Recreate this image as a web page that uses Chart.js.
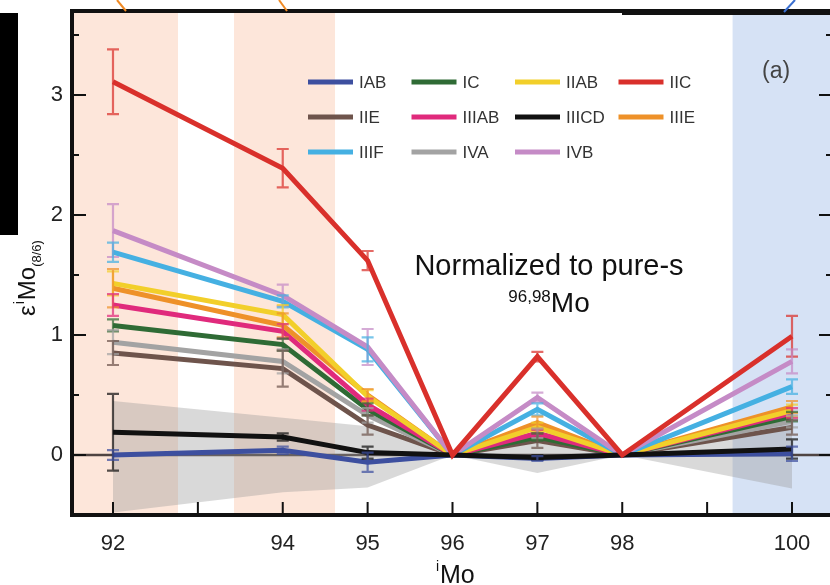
<!DOCTYPE html>
<html>
<head>
<meta charset="utf-8">
<script src="https://cdn.jsdelivr.net/npm/chart.js@4.4.1/dist/chart.umd.min.js"></script>
<style>
  html, body { margin: 0; padding: 0; background: #fff; overflow: hidden; width: 830px; height: 585px; }
  #wrap { position: relative; width: 840px; height: 585px; }
</style>
</head>
<body>
<div id="wrap"><canvas id="c" width="840" height="585"></canvas></div>
<script>
// Mo isotope mass numbers (x) and axis ticks
const isotopes = [92, 94, 95, 96, 97, 98, 100];
const xTickValues = [92, 94, 95, 96, 97, 98, 100];
const xMinorTicks = [93, 99];
const yTickValues = [0, 1, 2, 3];
const yMinorTicks = [-0.5, 0.5, 1.5, 2.5, 3.5];

// Iron meteorite groups (legend order)
const groups = ['IAB', 'IC', 'IIAB', 'IIC', 'IIE', 'IIIAB', 'IIICD', 'IIIE', 'IIIF', 'IVA', 'IVB'];

// ε(iMo) values normalized to pure-s 96,98Mo, and 2σ errors
const valIAB   = [0.00, 0.04, -0.06, 0, -0.03, 0, 0.01];
const errIAB   = [0.04, 0.03, 0.08, 0, 0.02, 0, 0.06];
const valIC    = [1.08, 0.92, 0.38, 0, 0.15, 0, 0.32];
const errIC    = [0.05, 0.05, 0.05, 0, 0.03, 0, 0.04];
const valIIAB  = [1.43, 1.17, 0.49, 0, 0.23, 0, 0.37];
const errIIAB  = [0.10, 0.08, 0.05, 0, 0.04, 0, 0.05];
const valIIC   = [3.11, 2.39, 1.62, 0, 0.82, 0, 0.99];
const errIIC   = [0.27, 0.16, 0.08, 0, 0.04, 0, 0.17];
const valIIE   = [0.85, 0.72, 0.25, 0, 0.12, 0, 0.23];
const errIIE   = [0.10, 0.15, 0.08, 0, 0.06, 0, 0.06];
const valIIIAB = [1.25, 1.03, 0.42, 0, 0.18, 0, 0.35];
const errIIIAB = [0.09, 0.06, 0.05, 0, 0.03, 0, 0.04];
const valIIICD = [0.19, 0.15, 0.02, 0, -0.02, 0, 0.05];
const errIIICD = [0.32, 0.03, 0.05, 0, 0.02, 0, 0.08];
const valIIIE  = [1.39, 1.08, 0.50, 0, 0.27, 0, 0.40];
const errIIIE  = [0.16, 0.10, 0.05, 0, 0.05, 0, 0.05];
const valIIIF  = [1.69, 1.28, 0.88, 0, 0.38, 0, 0.57];
const errIIIF  = [0.08, 0.05, 0.10, 0, 0.05, 0, 0.06];
const valIVA   = [0.94, 0.78, 0.33, 0, 0.18, 0, 0.28];
const errIVA   = [0.10, 0.10, 0.06, 0, 0.04, 0, 0.05];
const valIVB   = [1.87, 1.33, 0.90, 0, 0.48, 0, 0.78];
const errIVB   = [0.22, 0.09, 0.15, 0, 0.04, 0, 0.10];

// Uncertainty envelope around zero
const bandUpper = [0.45, 0.31, 0.24, 0, 0.10, 0, 0.26];
const bandLower = [-0.48, -0.31, -0.27, 0, -0.15, 0, -0.28];

const seriesValues = {
  IAB: valIAB, IC: valIC, IIAB: valIIAB, IIC: valIIC, IIE: valIIE, IIIAB: valIIIAB,
  IIICD: valIIICD, IIIE: valIIIE, IIIF: valIIIF, IVA: valIVA, IVB: valIVB
};
const seriesErrors = {
  IAB: errIAB, IC: errIC, IIAB: errIIAB, IIC: errIIC, IIE: errIIE, IIIAB: errIIIAB,
  IIICD: errIIICD, IIIE: errIIIE, IIIF: errIIIF, IVA: errIVA, IVB: errIVB
};
const colors = {
  IAB: '#3d4f9f', IC: '#2f6b35', IIAB: '#f2cf2a', IIC: '#d9302b', IIE: '#6e544c',
  IIIAB: '#e02a7c', IIICD: '#111111', IIIE: '#ee9129', IIIF: '#45b0e2', IVA: '#a3a3a3', IVB: '#c58bc6'
};

// first dataset is painted last (on top)
const drawOrder = ['IIC', 'IIICD', 'IAB', 'IVB', 'IIIF', 'IIAB', 'IIIE', 'IIIAB', 'IC', 'IVA', 'IIE'];

const FONT = '"Liberation Sans", Arial, Helvetica, sans-serif';
Chart.defaults.font.family = FONT;

const pts = arr => arr.map((v, i) => ({ x: isotopes[i], y: v }));

const datasets = drawOrder.map(name => ({
  label: name,
  data: pts(seriesValues[name]),
  borderColor: colors[name],
  backgroundColor: colors[name],
  borderWidth: 5,
  pointRadius: 0,
  tension: 0,
  fill: false,
  borderJoinStyle: 'miter',
  errors: seriesErrors[name]
}));
const upperIndex = datasets.length;
datasets.push({
  label: 'envelope+', data: pts(bandUpper), borderWidth: 0, pointRadius: 0,
  borderColor: 'rgba(0,0,0,0)', fill: false
});
datasets.push({
  label: 'envelope-', data: pts(bandLower), borderWidth: 0, pointRadius: 0,
  borderColor: 'rgba(0,0,0,0)', backgroundColor: 'rgba(150,150,150,0.36)',
  fill: { target: upperIndex }
});

function hexA(hex, a) {
  const n = parseInt(hex.slice(1), 16);
  return `rgba(${(n >> 16) & 255},${(n >> 8) & 255},${n & 255},${a})`;
}

const decor = {
  id: 'decor',
  beforeDatasetsDraw(chart) {
    const { ctx, chartArea: a, scales: { x, y } } = chart;
    ctx.save();
    // highlighted isotope windows
    const spans = [
      [x.min, 92.766, 'rgb(253,230,218)'],
      [93.426, 94.616, 'rgb(253,230,218)'],
      [99.30, x.max, 'rgb(214,226,245)']
    ];
    spans.forEach(([v0, v1, c]) => {
      const p0 = x.getPixelForValue(v0), p1 = x.getPixelForValue(v1);
      ctx.fillStyle = c;
      ctx.fillRect(p0, a.top, p1 - p0, a.bottom - a.top);
    });
    // zero reference line
    const y0 = y.getPixelForValue(0);
    ctx.strokeStyle = '#4f4442';
    ctx.lineWidth = 2.5;
    ctx.beginPath();
    ctx.moveTo(a.left, y0);
    ctx.lineTo(a.right, y0);
    ctx.stroke();
    ctx.restore();
  },
  afterDatasetsDraw(chart) {
    const { ctx, scales: { x, y } } = chart;
    ctx.save();
    chart.data.datasets.forEach(ds => {
      if (!ds.errors) return;
      ctx.strokeStyle = hexA(ds.borderColor, 0.72);
      ctx.lineWidth = 2.2;
      ds.data.forEach((p, i) => {
        const e = ds.errors[i];
        if (!e) return;
        const px = x.getPixelForValue(p.x);
        const t = y.getPixelForValue(p.y + e), b = y.getPixelForValue(p.y - e);
        ctx.beginPath();
        ctx.moveTo(px, t); ctx.lineTo(px, b);
        ctx.moveTo(px - 6, t); ctx.lineTo(px + 6, t);
        ctx.moveTo(px - 6, b); ctx.lineTo(px + 6, b);
        ctx.stroke();
      });
    });
    ctx.restore();
  },
  afterDraw(chart) {
    const { ctx, chartArea: a, scales: { x, y } } = chart;
    ctx.save();
    ctx.strokeStyle = '#111';
    // inward tick marks
    ctx.lineWidth = 2;
    ctx.beginPath();
    xTickValues.concat(xMinorTicks).forEach(v => {
      const px = x.getPixelForValue(v);
      ctx.moveTo(px, a.bottom); ctx.lineTo(px, a.bottom - 13);
    });
    yTickValues.forEach(v => {
      const py = y.getPixelForValue(v);
      ctx.moveTo(a.left, py); ctx.lineTo(a.left + 14, py);
      ctx.moveTo(a.right, py); ctx.lineTo(a.right - 14, py);
    });
    yMinorTicks.forEach(v => {
      const py = y.getPixelForValue(v);
      ctx.moveTo(a.left, py); ctx.lineTo(a.left + 7, py);
      ctx.moveTo(a.right, py); ctx.lineTo(a.right - 7, py);
    });
    ctx.stroke();
    // plot frame
    ctx.lineWidth = 4;
    ctx.strokeRect(a.left, a.top, a.right - a.left, a.bottom - a.top);
    ctx.fillStyle = '#111';
    ctx.fillRect(622, a.top - 1, a.right - 622, 5);

    // side marker and pointer strokes
    ctx.fillStyle = '#000';
    ctx.fillRect(0, 13, 18, 222);
    ctx.lineWidth = 2;
    ctx.strokeStyle = '#f08a24';
    ctx.beginPath(); ctx.moveTo(117, 0); ctx.lineTo(126, 11); ctx.stroke();
    ctx.beginPath(); ctx.moveTo(279, 0); ctx.lineTo(287, 11); ctx.stroke();
    ctx.strokeStyle = '#3a6fd0';
    ctx.beginPath(); ctx.moveTo(795, 0); ctx.lineTo(784, 12); ctx.stroke();

    // legend
    ctx.textBaseline = 'middle';
    ctx.textAlign = 'left';
    ctx.font = `17px ${FONT}`;
    groups.forEach((g, k) => {
      const col = k % 4, row = Math.floor(k / 4);
      const lx = 308 + col * 103.5, ly = 82 + row * 35;
      ctx.strokeStyle = colors[g];
      ctx.lineWidth = 5;
      ctx.beginPath(); ctx.moveTo(lx, ly); ctx.lineTo(lx + 45, ly); ctx.stroke();
      ctx.fillStyle = '#333';
      ctx.fillText(g, lx + 51, ly + 1);
    });

    // panel label
    ctx.fillStyle = '#444';
    ctx.font = `23px ${FONT}`;
    ctx.textBaseline = 'alphabetic';
    ctx.fillText('(a)', 762, 78);

    // normalization note
    ctx.fillStyle = '#111';
    ctx.textAlign = 'center';
    ctx.font = `29px ${FONT}`;
    ctx.fillText('Normalized to pure-s', 549, 275);
    ctx.textAlign = 'left';
    ctx.font = `17px ${FONT}`;
    const wSup = ctx.measureText('96,98').width;
    ctx.font = `28px ${FONT}`;
    const wMo = ctx.measureText('Mo').width;
    const sx = 549 - (wSup + wMo) / 2;
    ctx.font = `17px ${FONT}`;
    ctx.fillText('96,98', sx, 302);
    ctx.font = `28px ${FONT}`;
    ctx.fillText('Mo', sx + wSup, 312);

    // y axis title: ε^iMo_(8/6)
    ctx.save();
    ctx.translate(35, 316);
    ctx.rotate(-Math.PI / 2);
    ctx.fillStyle = '#111';
    let cx = 0;
    ctx.font = `24px ${FONT}`;
    ctx.fillText('ε', cx, 0); cx += ctx.measureText('ε').width + 1;
    ctx.font = `14px ${FONT}`;
    ctx.fillText('i', cx, -11); cx += ctx.measureText('i').width + 1;
    ctx.font = `24px ${FONT}`;
    ctx.fillText('Mo', cx, 0); cx += ctx.measureText('Mo').width;
    ctx.font = `13px ${FONT}`;
    ctx.fillText('(8/6)', cx, 6);
    ctx.restore();

    // x axis title: ^iMo
    ctx.fillStyle = '#111';
    ctx.font = `14px ${FONT}`;
    ctx.fillText('i', 436, 571);
    ctx.font = `25px ${FONT}`;
    ctx.fillText('Mo', 440, 583);
    ctx.restore();
  }
};

new Chart(document.getElementById('c'), {
  type: 'line',
  data: { datasets },
  options: {
    responsive: false,
    animation: false,
    devicePixelRatio: 1,
    layout: { padding: { left: 0, top: 11, right: 7, bottom: 0 } },
    plugins: { legend: { display: false }, tooltip: { enabled: false } },
    scales: {
      x: {
        type: 'linear',
        min: 91.517,
        max: 100.483,
        afterBuildTicks: s => { s.ticks = xTickValues.map(v => ({ value: v })); },
        afterFit: s => { s.height = 70; s.paddingLeft = 0; s.paddingRight = 0; },
        grid: { display: false, drawTicks: false },
        border: { display: false },
        ticks: { font: { size: 22 }, color: '#222', padding: 16, autoSkip: false, maxRotation: 0, callback: v => String(v) }
      },
      y: {
        type: 'linear',
        min: -0.5,
        max: 3.7,
        afterBuildTicks: s => { s.ticks = yTickValues.map(v => ({ value: v })); },
        afterFit: s => { s.width = 72; s.paddingTop = 0; s.paddingBottom = 0; },
        grid: { display: false, drawTicks: false },
        border: { display: false },
        ticks: { font: { size: 22 }, color: '#222', padding: 9, callback: v => String(v) }
      }
    }
  },
  plugins: [decor]
});
</script>
</body>
</html>
